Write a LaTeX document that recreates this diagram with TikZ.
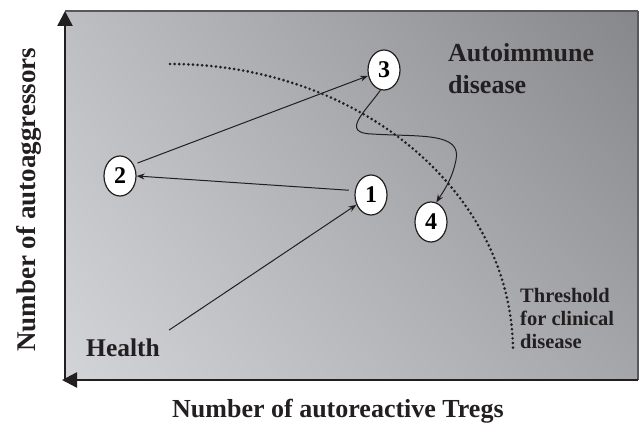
\documentclass[tikz,border=0pt]{standalone}
\usepackage{fontspec}
\setmainfont{Liberation Serif}
\usetikzlibrary{arrows.meta,shapes.geometric,shadings}
\definecolor{shadetl}{HTML}{BDBEC2}
\definecolor{shadetr}{HTML}{86878B}
\definecolor{shadebl}{HTML}{D3D4D7}
\definecolor{shadebr}{HTML}{A5A6AA}
\definecolor{inkx}{HTML}{231F20}
\tikzset{
  ar/.style={-{Stealth[length=8pt,width=6pt]},line width=1pt,inkx},
  ax/.style={-{Triangle[length=15pt,width=15pt]},line width=2.4pt,inkx},
  num/.style={ellipse,draw=inkx,line width=1.2pt,fill=white,minimum width=32pt,minimum height=40pt,inner sep=0pt,font=\fontsize{24}{24}\selectfont\bfseries},
  lbl/.style={inner sep=0pt,text=inkx,font=\fontsize{26}{32}\selectfont\bfseries}
}
\begin{document}
\begin{tikzpicture}[x=1pt,y=-1pt]
\useasboundingbox (0,0) rectangle (641,428);
\shade[upper left=shadetl,upper right=shadetr,lower left=shadebl,lower right=shadebr] (65,11) rectangle (638,380);
\draw[inkx!75,line width=1.2pt] (65,11) -- (638,11);
\draw[inkx!75,line width=2pt] (638,11) -- (638,380);
% axes
\coordinate (org) at (65,381);
\coordinate (ytop) at (65,11);
\coordinate (xend) at (638,380);
\coordinate (xtip) at (62,380);
\draw[ax] (org) -- (ytop);
\draw[ax] (xend) -- (xtip);
% threshold
\draw[inkx,line width=2.9pt,line cap=round,dash pattern=on 0pt off 4.6pt] (170,64) arc[start angle=-90,end angle=0,x radius=343,y radius=288];
% states
\node[num] (n1) at (371,195) {1};
\node[num] (n2) at (120,176) {2};
\node[num] (n3) at (384,70) {3};
\node[num] (n4) at (431,222) {4};
\node[lbl,anchor=base west,font=\fontsize{25.5}{30}\selectfont\bfseries] (hl) at (86,356) {Health};
\node[lbl,anchor=north west,align=left] (ad) at (448,43) {Autoimmune\\disease};
\node[lbl,anchor=north west,align=left,font=\fontsize{20.5}{23}\selectfont\bfseries] (th) at (520,288) {Threshold\\for clinical\\disease};
\node[lbl,anchor=base west] (xl) at (172,417) {Number of autoreactive Tregs};
\node[lbl,anchor=base west,rotate=90,font=\fontsize{27}{32}\selectfont\bfseries] (yl) at (35,352) {Number of autoaggressors};
% path
\draw[ar] ([shift={(9,-8)}]hl.north east) -- (n1);
\draw[ar,shorten <=6pt] (n1.165) -- (n2.east);
\draw[ar,shorten <=4pt] (n2.40) -- (n3.200);
\draw[ar] (n3.260) .. controls (365,112) and (340,133) .. (372,134)
  .. controls (420,137) and (462,132) .. (456,160)
  .. controls (452,180) and (443,192) .. (n4.75);
\end{tikzpicture}
\end{document}
